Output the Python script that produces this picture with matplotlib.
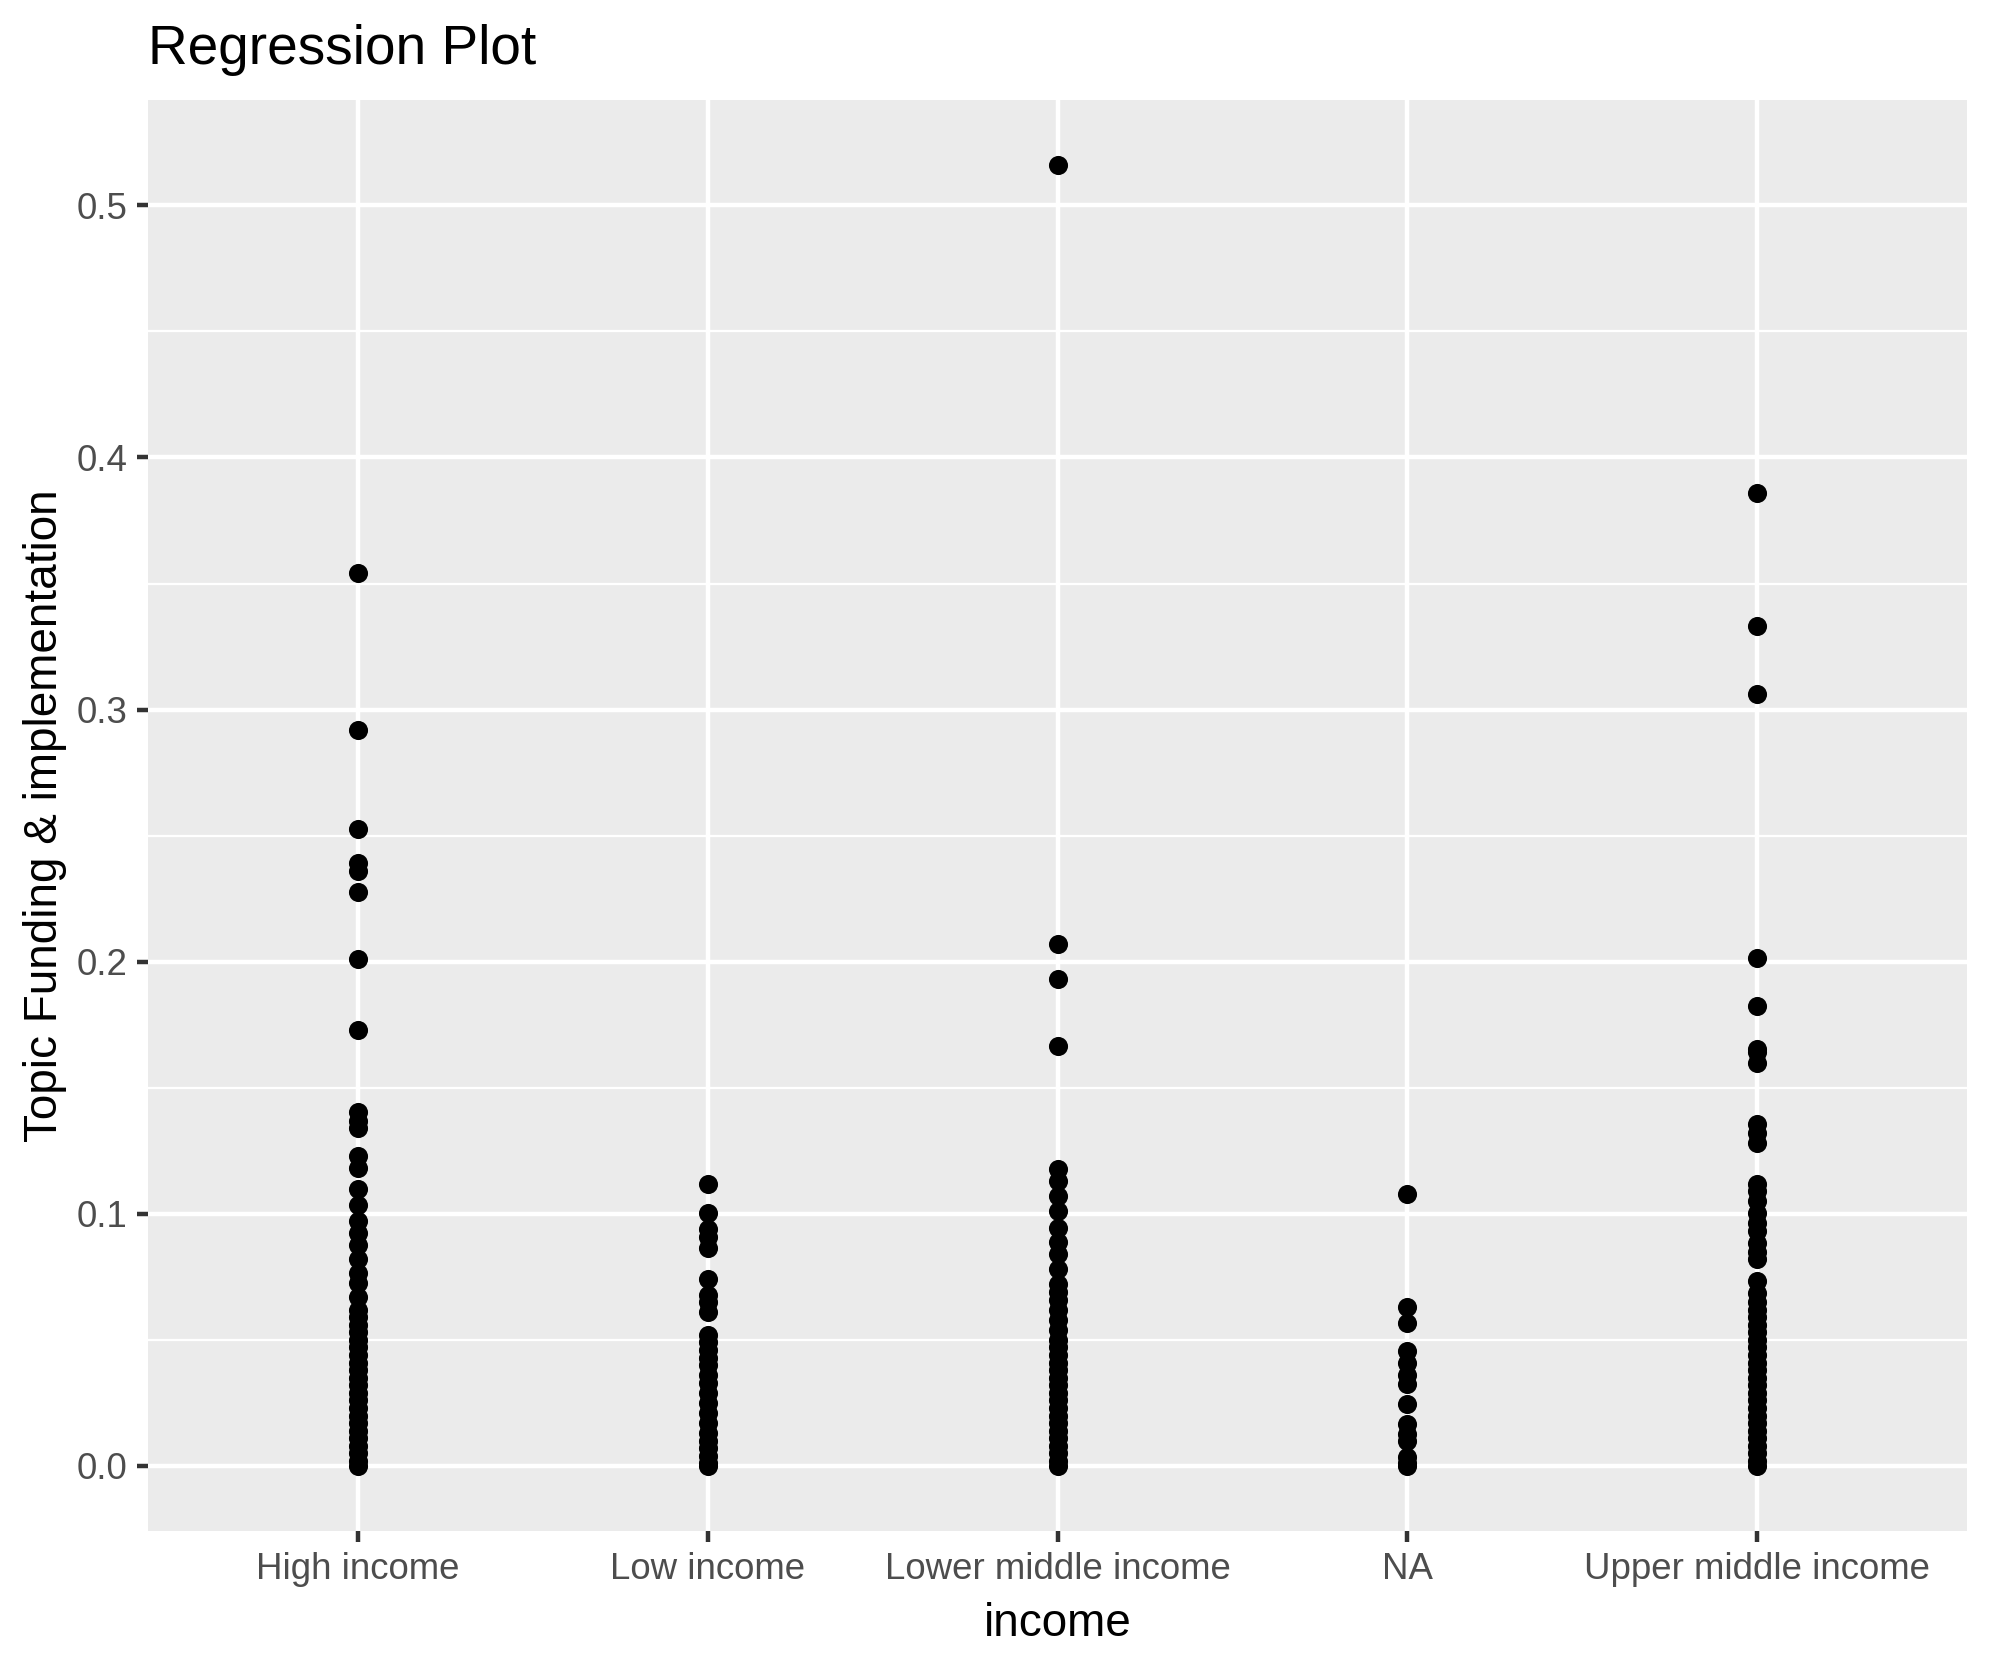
import numpy as np
import matplotlib.pyplot as plt

# 收入分组与各组取值
categories = ['High income', 'Low income', 'Lower middle income', 'NA', 'Upper middle income']

high_income = [0.354, 0.292, 0.2525, 0.239, 0.236, 0.2275, 0.201, 0.173, 0.1405, 0.137, 0.134,
               0.123, 0.118, 0.110, 0.1035, 0.097, 0.0925, 0.0875, 0.082, 0.0765, 0.0725, 0.067,
               0.062, 0.059, 0.056, 0.053, 0.050, 0.047, 0.044, 0.041, 0.038, 0.035, 0.032, 0.029,
               0.026, 0.023, 0.020, 0.017, 0.014, 0.011, 0.008, 0.005, 0.002, 0.0]
low_income = [0.112, 0.1005, 0.094, 0.091, 0.0865, 0.074, 0.068, 0.065, 0.061, 0.052, 0.049, 0.046,
              0.043, 0.040, 0.036, 0.033, 0.029, 0.025, 0.021, 0.017, 0.013, 0.010, 0.007, 0.004,
              0.001, 0.0]
lower_middle = [0.516, 0.207, 0.193, 0.1665, 0.1178, 0.113, 0.107, 0.101, 0.0945, 0.089, 0.084,
                0.078, 0.072, 0.069, 0.066, 0.062, 0.058, 0.054, 0.050, 0.047, 0.044, 0.041, 0.038,
                0.035, 0.032, 0.029, 0.026, 0.023, 0.020, 0.017, 0.014, 0.011, 0.008, 0.005, 0.002, 0.0]
na_income = [0.108, 0.063, 0.0567, 0.0455, 0.041, 0.036, 0.0325, 0.0245, 0.0165, 0.0128, 0.010,
             0.0035, 0.001, 0.0]
upper_middle = [0.386, 0.333, 0.306, 0.2015, 0.1825, 0.1655, 0.164, 0.160, 0.1355, 0.132, 0.128,
                0.112, 0.109, 0.105, 0.1005, 0.0965, 0.093, 0.0885, 0.085, 0.082, 0.0735, 0.0685,
                0.065, 0.062, 0.059, 0.056, 0.053, 0.050, 0.047, 0.044, 0.041, 0.038, 0.035, 0.032,
                0.029, 0.026, 0.023, 0.020, 0.017, 0.014, 0.011, 0.008, 0.005, 0.002, 0.0]
groups = [high_income, low_income, lower_middle, na_income, upper_middle]

y_ticks = [0.0, 0.1, 0.2, 0.3, 0.4, 0.5]
y_tick_labels = ['0.0', '0.1', '0.2', '0.3', '0.4', '0.5']
y_minor = [0.05, 0.15, 0.25, 0.35, 0.45]

plt.rcParams['font.family'] = ['Liberation Sans', 'DejaVu Sans']

W, H = 1990, 1665
fig = plt.figure(figsize=(W / 300, H / 300), dpi=300)
# 面板位置（像素）
left, right, top, bottom = 148, 1967, 100, 1531
ax = fig.add_axes([left / W, 1 - bottom / H, (right - left) / W, (bottom - top) / H])
ax.set_facecolor('#EBEBEB')
for s in ax.spines.values():
    s.set_visible(False)

# ggplot 风格网格
ymax = max(max(g) for g in groups)
ymin = 0.0
pad = (ymax - ymin) * 0.05
ax.set_ylim(ymin - pad, ymax + pad)
ax.set_xlim(-0.6, len(categories) - 0.4)

for v in y_minor:
    ax.axhline(v, color='white', lw=0.53, zorder=1)
for v in y_ticks:
    ax.axhline(v, color='white', lw=1.07, zorder=1)
for i in range(len(categories)):
    ax.axvline(i, color='white', lw=1.07, zorder=1)

for i, vals in enumerate(groups):
    ax.scatter(np.full(len(vals), i), vals, s=21, color='black', linewidths=0, zorder=3)

ax.set_xticks(range(len(categories)))
ax.set_xticklabels(categories)
ax.set_yticks(y_ticks)
ax.set_yticklabels(y_tick_labels)
ax.tick_params(axis='both', length=2.75, width=1.07, color='#333333', pad=2.2,
               labelsize=8.8, labelcolor='#4D4D4D')

fig.text(left / W, 1 - 64 / H, 'Regression Plot', fontsize=13.2, ha='left', va='baseline', color='black')
fig.text((left + right) / 2 / W, 1 - 1636 / H, 'income', fontsize=11, ha='center', va='baseline', color='black')
fig.text(45 / W, 1 - (top + bottom) / 2 / H, 'Topic Funding & implementation', fontsize=11,
         rotation=90, ha='center', va='center', color='black')

fig.savefig('out.png', dpi=300)
